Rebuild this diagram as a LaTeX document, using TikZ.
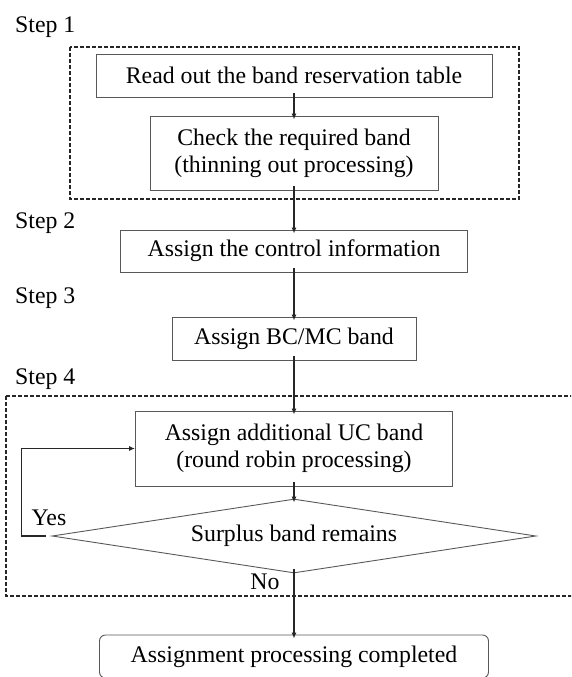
\documentclass[tikz,border=0pt]{standalone}
\usepackage{fontspec}
\setmainfont{Liberation Serif}
\usetikzlibrary{shapes.geometric,arrows.meta}

\begin{document}
\begin{tikzpicture}[x=1pt, y=-1pt,
      font=\fontsize{23.8}{27}\selectfont,
      box/.style={draw=black!65, line width=0.9pt, align=center, inner sep=0pt},
      decision/.style={draw=black!65, line width=0.9pt, diamond, aspect=6.5, inner sep=0pt,
        minimum width=484pt, minimum height=74pt},
      flow/.style={draw=black!85, line width=1.4pt, -{Latex[length=6pt,width=5pt]},
        shorten >=-4pt, shorten <=-4pt},
      backflow/.style={draw=black!85, line width=1.4pt, -{Latex[length=6pt,width=5pt]},
        shorten <=6pt},
      group/.style={draw=black!85, line width=1.3pt, dash pattern=on 4pt off 2pt},
      steplabel/.style={anchor=west, inner sep=0pt}]
    \useasboundingbox (0,0) rectangle (571,677);
    \clip (0,0) rectangle (571,677);
    \draw[group] (70,47) rectangle (519,199);
    \draw[group] (6,396) rectangle (600,596);
    \node[steplabel] (step1) at (15,27) {Step 1};
    \node[steplabel] (step2) at (15,223) {Step 2};
    \node[steplabel] (step3) at (15,298) {Step 3};
    \node[steplabel] (step4) at (15,379) {Step 4};
    \node[box, minimum width=396pt, minimum height=43pt] (read) at (294,75.5)
        {Read out the band reservation table};
    \node[box, minimum width=288pt, minimum height=74pt] (check) at (294,153)
        {Check the required band\\(thinning out processing)};
    \node[box, minimum width=347pt, minimum height=42pt] (ctrl) at (294,251)
        {Assign the control information};
    \node[box, minimum width=244pt, minimum height=43pt] (bcmc) at (294,338.5)
        {Assign BC/MC band};
    \node[box, minimum width=317pt, minimum height=75pt] (ucband) at (294,448.5)
        {Assign additional UC band\\(round robin processing)};
    \node[decision] (surplus) at (294,536) {Surplus band remains};
    \node[box, rounded corners=6pt, minimum width=389pt, minimum height=43pt] (done) at (294,656.5)
        {Assignment processing completed};
    \node (yes) at (49,518) {Yes};
    \node (no) at (265,582) {No};
    \draw[flow] (read) -- (check);
    \draw[flow] (check) -- (ctrl);
    \draw[flow] (ctrl) -- (bcmc);
    \draw[flow] (bcmc) -- (ucband);
    \draw[flow] (ucband) -- (surplus);
    \draw[flow] (surplus) -- (done);
    \draw[backflow] (surplus.west) -- ++(-30,0) |- (ucband.west);
\end{tikzpicture}
\end{document}
